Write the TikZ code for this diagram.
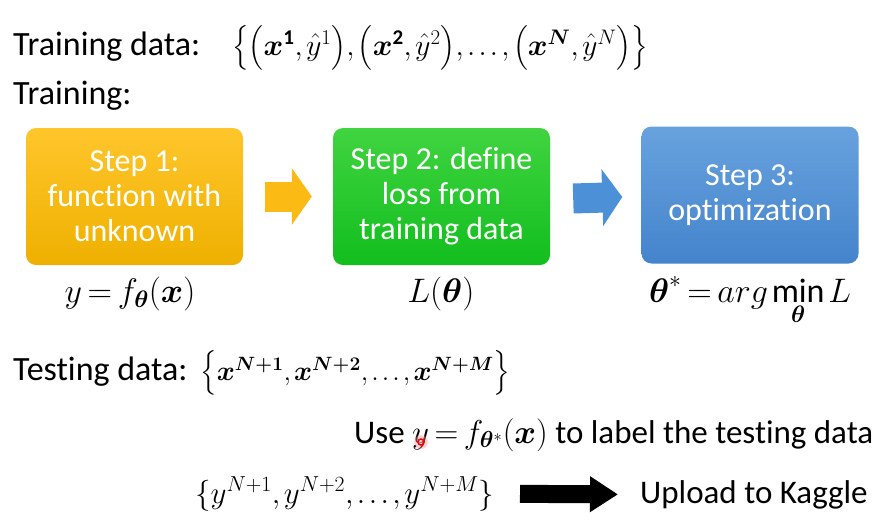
\RequirePackage{fix-cm}
\documentclass[tikz,border=0pt]{standalone}
\usepackage{amsmath,bm}
\usepackage{fontspec}
\setmainfont{Carlito}[Ligatures=NoCommon]
\usetikzlibrary{arrows.meta}
\definecolor{orT}{RGB}{255,198,44}
\definecolor{orB}{RGB}{238,176,0}
\definecolor{grT}{RGB}{64,212,64}
\definecolor{grB}{RGB}{18,190,30}
\definecolor{blT}{RGB}{104,162,222}
\definecolor{blB}{RGB}{68,132,204}
\definecolor{orA}{RGB}{252,186,20}
\definecolor{blA}{RGB}{76,144,216}
\newcommand{\tightmath}{\thickmuskip=3mu plus 2mu\medmuskip=2mu\thinmuskip=2mu}
\begin{document}
\begin{tikzpicture}[x=1pt,y=-1pt,
  txt/.style={font=\fontsize{34}{40}\selectfont\tightmath, inner sep=0pt, anchor=base west},
  mth/.style={txt, font=\fontsize{31}{38}\selectfont\tightmath},
  stepbox/.style={rounded corners=10pt, minimum width=217pt, minimum height=137pt,
     text=white, align=center, font=\fontsize{32}{35}\selectfont, inner sep=0pt},
  fat/.style={line width=30pt, -{Triangle[length=20pt,width=56pt]}}]
\useasboundingbox[fill=white] (0,0) rectangle (883,522);

\node[txt] (trl) at (13,55) {Training data:};
\node[mth, font=\fontsize{30}{36}\selectfont\tightmath] (trs) at (232,55) {$\bigl\{\bigl(\bm{x}^{\mathbf 1},\hat y^{1}\bigr),\bigl(\bm{x}^{\mathbf 2},\hat y^{2}\bigr),\ldots,\bigl(\bm{x}^{\bm N},\hat y^{N}\bigr)\bigr\}$};
\node[txt] (tr) at (13,104) {Training:};

\node[stepbox, top color=orT, bottom color=orB] (s1) at (134.5,196.5) {Step 1:\\function with\\unknown};
\node[stepbox, top color=grT, bottom color=grB] (s2) at (441.5,196.5) {Step 2: define\\loss from\\training data};
\node[stepbox, top color=blT, bottom color=blB] (s3) at (750,195) {Step 3:\\optimization};

\draw[fat, draw=orA] ([xshift=22pt]s1.east) -- ([xshift=-21pt]s2.west);
\draw[fat, draw=blA] ([xshift=23pt,yshift=-2pt]s2.east) -- ([xshift=-19pt,yshift=-2pt]s3.west);

\node[txt, anchor=base] (f1) at (130,302) {$y = f_{\bm\theta}(\bm x)$};
\node[txt, anchor=base] (f2) at (441,302) {$L(\bm\theta)$};
\node[txt, anchor=base] (f3) at (750,302) {$\displaystyle \bm\theta^{*} = arg\min_{\bm\theta} L$};

\node[txt] (tel) at (13,380) {Testing data:};
\node[mth, font=\fontsize{27.5}{34}\selectfont\tightmath] (tes) at (200,380) {$\Bigl\{\bm{x}^{\bm{N+1}},\bm{x}^{\bm{N+2}},\ldots,\bm{x}^{\bm{N+M}}\Bigr\}$};

\node[txt, font=\fontsize{33}{40}\selectfont\tightmath] (use) at (354,443) {Use $y = f_{\bm\theta^{*}}(\bm x)$ to label the testing data};

\node[mth] (ys) at (195,503) {$\{y^{N+1},y^{N+2},\ldots,y^{N+M}\}$};
\node[txt, font=\fontsize{33}{40}\selectfont] (up) at (640,503) {Upload to Kaggle};
\draw[line width=18pt, -{Triangle[length=28pt,width=34pt]}] (ys.east -| {(520,0)}) -- ([xshift=-22pt]up.west);

\coordinate (dot) at (421,442);
\fill[red!40, opacity=0.4] (dot) circle (7pt);
\draw[red, line width=1.5pt] (dot) circle (3pt);
\end{tikzpicture}
\end{document}
